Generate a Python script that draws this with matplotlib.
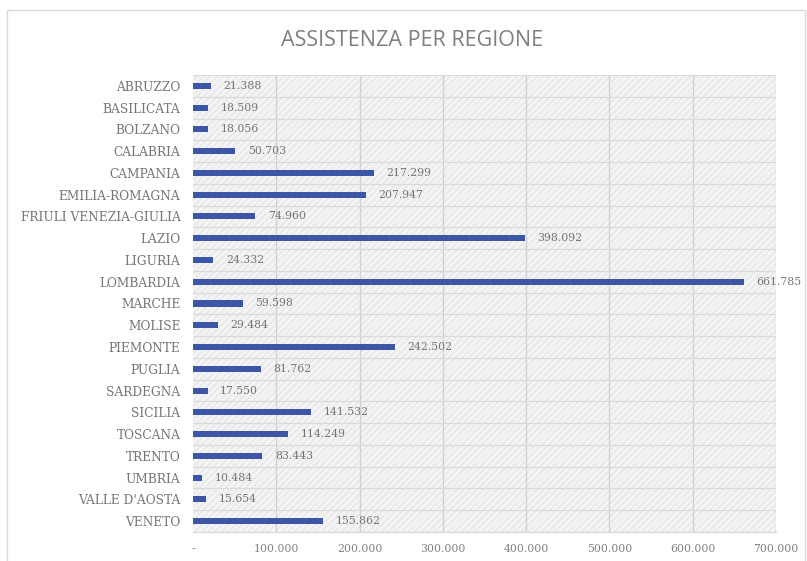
import matplotlib
matplotlib.use("Agg")
import matplotlib.pyplot as plt
from matplotlib.patches import Rectangle
from matplotlib.ticker import FuncFormatter

regions = ["ABRUZZO", "BASILICATA", "BOLZANO", "CALABRIA", "CAMPANIA",
           "EMILIA-ROMAGNA", "FRIULI VENEZIA-GIULIA", "LAZIO", "LIGURIA",
           "LOMBARDIA", "MARCHE", "MOLISE", "PIEMONTE", "PUGLIA", "SARDEGNA",
           "SICILIA", "TOSCANA", "TRENTO", "UMBRIA", "VALLE D'AOSTA", "VENETO"]
values = [21388, 18509, 18056, 50703, 217299, 207947, 74960, 398092, 24332,
          661785, 59598, 29484, 242502, 81762, 17550, 141532, 114249, 83443,
          10484, 15654, 155862]
xticks = [0, 100000, 200000, 300000, 400000, 500000, 600000, 700000]

def fmt(v):
    return f"{int(v):,}".replace(",", ".")

plt.rcParams['hatch.color'] = "#e6e6e6"

W, H = 807, 561
fig = plt.figure(figsize=(W / 100, H / 100), dpi=100)
fig.patch.set_facecolor("white")

# outer chart frame
fig.patches.append(Rectangle((7 / W, -0.01), (W - 7 - 2) / W, 1 - 10 / H + 0.01,
                             transform=fig.transFigure, fill=False,
                             edgecolor="#d9d9d9", linewidth=1.0))

left, right, top, bottom = 193, 776, 75, 532
ax = fig.add_axes([left / W, 1 - bottom / H, (right - left) / W, (bottom - top) / H])
ax.set_facecolor("#f4f4f4")

# hatch pattern background
ax.add_patch(Rectangle((0, 0), 1, 1, transform=ax.transAxes, facecolor="#f4f4f4",
                       edgecolor="#e6e6e6", hatch="/////", linewidth=0, zorder=0))

n = len(regions)
ypos = list(range(n))
ax.barh(ypos, values, height=0.28, color="#3c55a5", zorder=3)
ax.set_ylim(n - 0.5, -0.5)
ax.set_xlim(0, 700000)

# gridlines
for xv in xticks[1:]:
    ax.axvline(xv, color="#d0d0d0", linewidth=0.9, zorder=1)
for i in range(n + 1):
    ax.axhline(i - 0.5, color="#dadada", linewidth=0.9, zorder=1)

for s in ax.spines.values():
    s.set_visible(False)
ax.spines["bottom"].set_visible(True)
ax.spines["bottom"].set_color("#d9d9d9")

serif = "DejaVu Serif"
ax.set_yticks(ypos)
ax.set_yticklabels(regions, family=serif, fontsize=8.8, color="#767676")
ax.set_xticks(xticks)
ax.xaxis.set_major_formatter(FuncFormatter(lambda v, p: "-" if v == 0 else fmt(v)))
for lbl in ax.get_xticklabels():
    lbl.set_family(serif)
ax.tick_params(axis="x", labelsize=7.8, labelcolor="#808080", length=0, pad=9)
ax.tick_params(axis="y", length=0, pad=9)

for y, v in zip(ypos, values):
    ax.text(v + 15000, y, fmt(v), va="center", ha="left", fontsize=7.8,
            family=serif, color="#747474", zorder=4)

fig.text(412 / W, 1 - 41 / H, "ASSISTENZA PER REGIONE", ha="center", va="center",
         fontsize=15.5, color="#7f7f7f", family="Open Sans")

fig.savefig("out.png", dpi=100)
